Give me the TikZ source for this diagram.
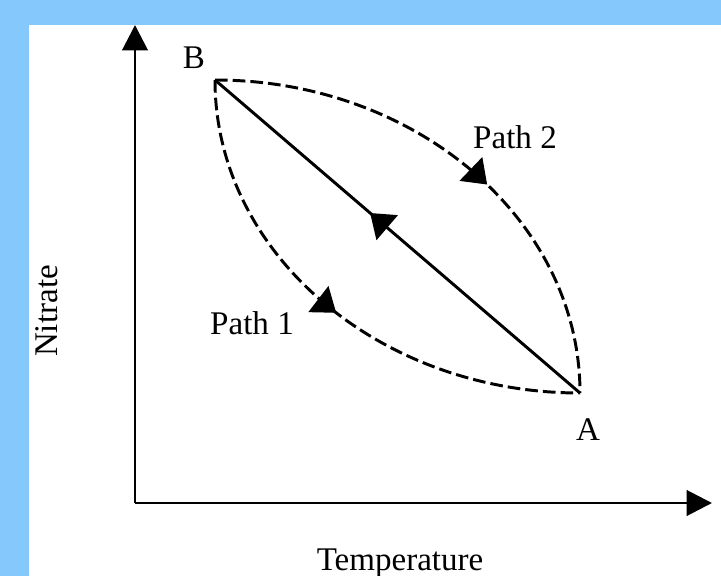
\documentclass[tikz,border=0pt]{standalone}
\usepackage{fontspec}
\setmainfont{Liberation Serif}
\usepackage{xcolor}
\usetikzlibrary{arrows.meta,decorations.markings}
\definecolor{framefill}{HTML}{84C8FC}
\definecolor{inkblack}{HTML}{000000}

\begin{document}
\begin{tikzpicture}[
  x=0.025cm,
  y=-0.025cm,
  every node/.style={
    inner sep=0pt,
    font=\fontsize{23.5}{28}\selectfont
  },
  axis/.style={
    -{Triangle[length=18pt,width=18pt]},
    draw=inkblack,
    line width=2.1pt
  },
  direct/.style={
    draw=inkblack,
    line width=2.1pt,
    postaction={decorate},
    decoration={markings,
      mark=at position 0.575 with {\arrow{Triangle[length=16pt,width=23pt]}}}
  },
  route/.style={
    draw=inkblack,
    line width=2.1pt,
    dash pattern=on 9pt off 3.6pt,
    postaction={decorate},
    decoration={markings,
      mark=at position #1 with {\arrow{Triangle[length=16pt,width=23pt]}}}
  },
  pointlabel/.style={
    text=inkblack
  }
]

% Frame
\fill[framefill] (0,0) rectangle (721,576);
\fill[white] (29,25) rectangle (721,576);
\useasboundingbox (0,0) rectangle (721,576);

% Axes
\coordinate (origin) at (135,503);
\coordinate (ytop)   at (135,25);
\coordinate (xend)   at (712,503);
\draw[axis] (origin) -- (ytop);
\draw[axis] (origin) -- (xend);

\node[pointlabel, rotate=90] (nitrate) at (47,311) {Nitrate};
\node[pointlabel, anchor=base] (temp) at (400,570) {Temperature};

% States
\coordinate (ptB) at (215,80);
\coordinate (ptA) at (580,393);
\node[pointlabel] (labB) at (194,58)  {B};
\node[pointlabel] (labA) at (588,430) {A};

% Paths between the states
\draw[route=0.56] (ptB) .. controls +(201,0) and +(0,-173) .. (ptA);
\draw[route=0.51] (ptB) .. controls +(0,173) and +(-201,0) .. (ptA);
\draw[direct] (ptA) -- (ptB);

\node[pointlabel] (path2) at (515,137) {Path 2};
\node[pointlabel] (path1) at (252,323) {Path 1};

\end{tikzpicture}
\end{document}
